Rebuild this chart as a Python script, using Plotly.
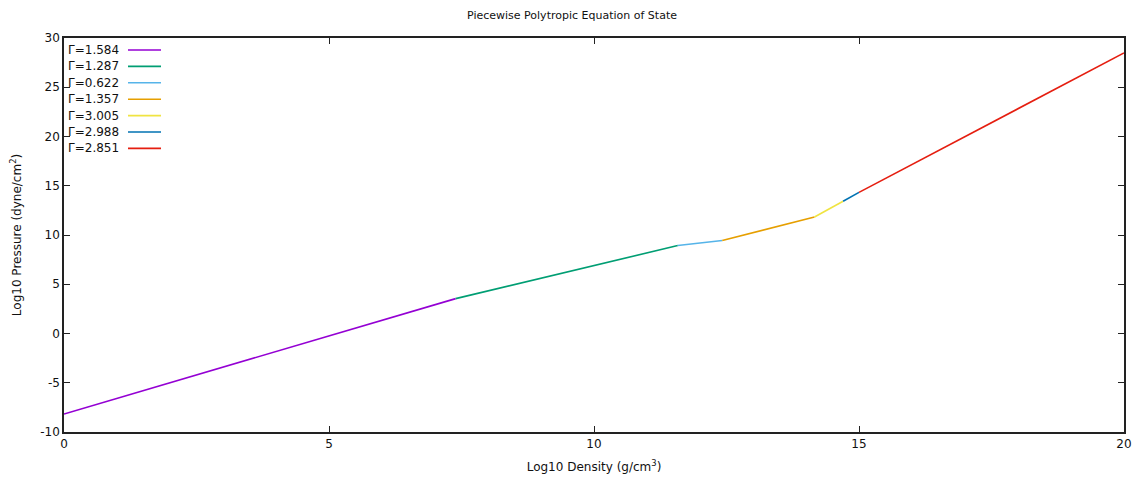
import plotly.graph_objects as go

# Segment breakpoints (log10 density) and log10 pressure at those breakpoints
log_rho = [0.0, 7.39, 11.58, 12.42, 14.16, 14.70, 15.00, 20.00]
log_p = [-8.17, 3.54, 8.93, 9.45, 11.82, 13.43, 14.33, 28.48]
gammas = ["1.584", "1.287", "0.622", "1.357", "3.005", "2.988", "2.851"]
colors = ["#9400d3", "#009e73", "#56b4e9", "#e69f00", "#f0e442", "#0072b2", "#e51e10"]

x_ticks = [0, 5, 10, 15, 20]
y_ticks = [-10, -5, 0, 5, 10, 15, 20, 25, 30]
y_tick_labels = ["-10", "-5", "0", "5", "10", "15", "20", "25", "30"]

FONT = "DejaVu Sans"

fig = go.Figure()
for i, g in enumerate(gammas):
    fig.add_trace(go.Scatter(
        x=[log_rho[i], log_rho[i + 1]],
        y=[log_p[i], log_p[i + 1]],
        mode="lines",
        name=f"Γ={g}",
        line=dict(color=colors[i], width=1.6),
        showlegend=False,
    ))

# gnuplot-style key: text left, line sample right
row0 = 50
step = 16.4
annotations = []
shapes = []
for i, g in enumerate(gammas):
    ypx = row0 + i * step
    yp = 1 - (ypx - 38) / (432 - 38)
    annotations.append(dict(
        x=(121 - 64) / (1124 - 64), y=yp, xref="paper", yref="paper",
        text=f"Γ={g}", showarrow=False, xanchor="right", yanchor="middle",
        font=dict(family=FONT, size=12, color="#111111"),
    ))
    shapes.append(dict(
        type="line", xref="paper", yref="paper",
        x0=(128 - 64) / (1124 - 64), x1=(161 - 64) / (1124 - 64),
        y0=yp, y1=yp, line=dict(color=colors[i], width=1.6),
    ))

fig.update_layout(
    width=1144, height=487,
    margin=dict(l=64, r=20, t=38, b=55),
    paper_bgcolor="white", plot_bgcolor="white",
    title=dict(text="Piecewise Polytropic Equation of State", x=0.5, xanchor="center",
               y=1 - 15 / 487, yanchor="middle",
               font=dict(family=FONT, size=11, color="#111111")),
    font=dict(family=FONT, size=12, color="#111111"),
    annotations=annotations,
    shapes=shapes,
    showlegend=False,
)
fig.update_xaxes(
    range=[0, 20], tickvals=x_ticks, ticks="inside", ticklen=6, tickcolor="#222222",
    showline=True, linecolor="#222222", linewidth=1.5, mirror="ticks",
    showgrid=False, zeroline=False,
    title=dict(text="Log10 Density (g/cm<sup>3</sup>)", font=dict(family=FONT, size=12), standoff=12),
    tickfont=dict(family=FONT, size=12, color="#111111"),
)
fig.update_yaxes(
    range=[-10, 30], tickvals=y_ticks, ticktext=y_tick_labels, ticks="inside", ticklen=6,
    tickcolor="#222222",
    showline=True, linecolor="#222222", linewidth=1.5, mirror="ticks",
    showgrid=False, zeroline=False,
    title=dict(text="Log10 Pressure (dyne/cm<sup>2</sup>)", font=dict(family=FONT, size=12), standoff=16),
    tickfont=dict(family=FONT, size=12, color="#111111"),
)

fig.write_html("out.html")
